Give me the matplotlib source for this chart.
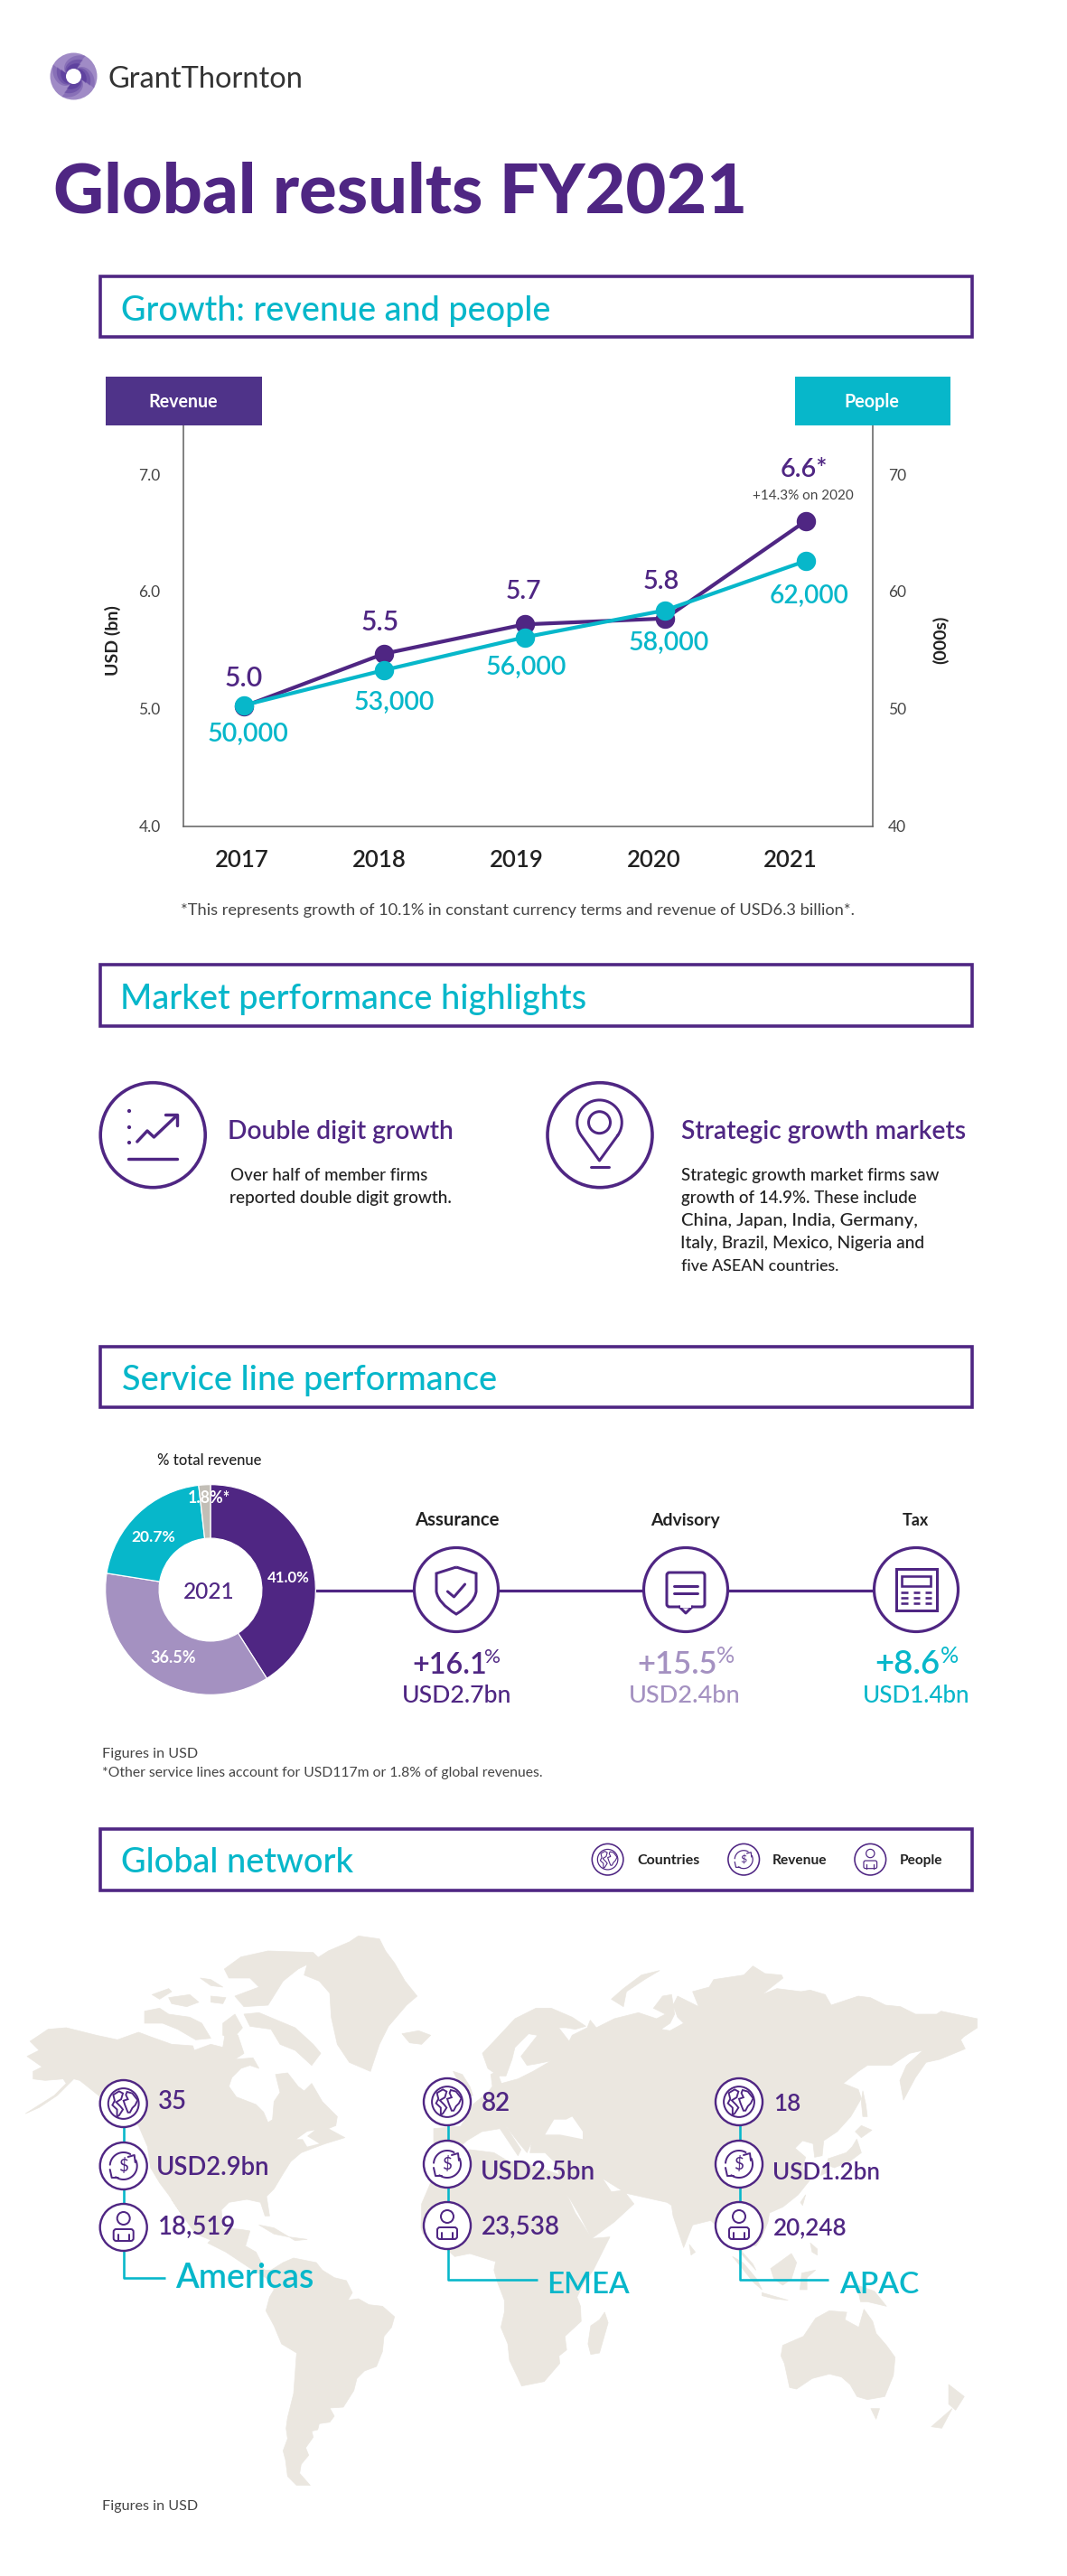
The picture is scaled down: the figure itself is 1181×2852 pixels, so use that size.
import numpy as np
import matplotlib
matplotlib.use("Agg")
import matplotlib.pyplot as plt
from matplotlib.patches import Circle, Rectangle, Polygon, FancyBboxPatch, PathPatch
from matplotlib.path import Path
from matplotlib.textpath import TextPath
from matplotlib.font_manager import FontProperties

# ---- data -------------------------------------------------------------
years = ["2017", "2018", "2019", "2020", "2021"]
revenue_bn = [5.02, 5.47, 5.72, 5.77, 6.60]
people_k = [50.3, 53.3, 56.1, 58.4, 62.6]
revenue_labels = ["5.0", "5.5", "5.7", "5.8", "6.6*"]
people_labels = ["50,000", "53,000", "56,000", "58,000", "62,000"]
left_ticks = [4, 5, 6, 7]
left_tick_labels = ["4.0", "5.0", "6.0", "7.0"]
right_ticks = [40, 50, 60, 70]
service_names = ["Assurance", "Advisory", "Tax"]
service_growth = ["+16.1", "+15.5", "+8.6"]
service_usd = ["USD2.7bn", "USD2.4bn", "USD1.4bn"]
donut_shares = [41.0, 36.5, 20.7, 1.8]
donut_labels = ["41.0%", "36.5%", "20.7%", "1.8%*"]
regions = ["Americas", "EMEA", "APAC"]
region_countries = ["35", "82", "18"]
region_revenue = ["USD2.9bn", "USD2.5bn", "USD1.2bn"]
region_people = ["18,519", "23,538", "20,248"]

# ---- style ------------------------------------------------------------
PURPLE = "#4f2683"
BOXP = "#4f3389"
LILAC = "#a491c1"
TEAL = "#07b7ca"
GREY = "#c2beb6"
LAND = "#ebe7e0"
INK = "#222222"
SOFT = "#444444"
FONT = "Lato"
W, H = 1181, 2852
K = 0.994

fig = plt.figure(figsize=(W / 100, H / 100), dpi=100, facecolor="white")


def ax_px(x0, y0, x1, y1, **kw):
    return fig.add_axes([x0 / W, 1 - y1 / H, (x1 - x0) / W, (y1 - y0) / H], **kw)


def canvas(z):
    a = fig.add_axes([0, 0, 1, 1], zorder=z)
    a.set_xlim(0, W)
    a.set_ylim(H, 0)
    a.axis("off")
    a.patch.set_alpha(0)
    return a


bg = canvas(0)
fg = canvas(5)


def lw(px):
    return px * 0.72


def T(s, x0, x1, base, color=INK, weight="normal", ax=None):
    fp = FontProperties(family=FONT, weight=weight)
    e = TextPath((0, 0), s, size=100, prop=fp).get_extents()
    em = (x1 - x0) * 100 / e.width
    size = em * 0.72
    (ax or fg).text(x0 - e.x0 * em / 100, base, s, fontsize=size, color=color,
                    family=FONT, weight=weight, ha="left", va="baseline", zorder=20)
    return size


def T1(s, x0, x1, y, *a, **k):
    return T(s, x0 * K, x1 * K, y * K, *a, **k)


def T2(s, x0, x1, y, *a, **k):
    return T(s, x0 * K, x1 * K, 1050 + (y - 1050) * K, *a, **k)


def T3(s, x0, x1, y, *a, **k):
    return T(s, x0 * K, x1 * K, 2000 + (y - 2000) * K, *a, **k)


def L(s, x0, base, size, color=INK, weight="normal"):
    fg.text(x0, base, s, fontsize=size, color=color, family=FONT, weight=weight,
            ha="left", va="baseline", zorder=20)


def line(a, pts, px=3.0, color=PURPLE, z=10, cap="round"):
    xs, ys = zip(*pts)
    a.plot(xs, ys, color=color, lw=lw(px), solid_capstyle=cap, solid_joinstyle="round", zorder=z)


def ring(a, cx, cy, r, px=3.0, fc="white", ec=PURPLE, z=8):
    a.add_patch(Circle((cx, cy), r, fc=fc, ec=ec, lw=lw(px), zorder=z))


def arc(a, cx, cy, r, t0, t1, px=2.0, color=PURPLE, z=10):
    t = np.radians(np.linspace(t0, t1, 40))
    line(a, list(zip(cx + r * np.cos(t), cy - r * np.sin(t))), px, color, z)


def heading(y0, y1):
    fg.add_patch(Rectangle((110.7, y0), 964.8, y1 - y0, fc="none", ec=PURPLE, lw=lw(3.6), zorder=10))


# ---- logo -------------------------------------------------------------
def logo(cx, cy, R):
    bg.add_patch(Circle((cx, cy), R, fc="#a08bc6", ec="none", zorder=2))
    for k in range(4):
        for scale, alpha in ((1.0, 0.28), (0.80, 0.35), (0.6, 0.45)):
            a0 = np.radians(k * 90 + 20)
            t = np.linspace(0, np.radians(100), 24)
            rin = R * 0.30 + (R * scale - R * 0.30) * (t / t[-1]) ** 0.7
            ang = a0 + t
            outer = np.c_[cx + rin * np.cos(ang), cy + rin * np.sin(ang)]
            back = np.linspace(0, 1, 12)
            tipr = rin[-1] + (R * 0.30 - rin[-1]) * back
            tipa = ang[-1] - back * np.radians(100) * 0.08
            tail = np.c_[cx + R * 0.30 * np.cos(ang[::-1]), cy + R * 0.30 * np.sin(ang[::-1])]
            head = np.c_[cx + tipr * np.cos(tipa), cy + tipr * np.sin(tipa)]
            bg.add_patch(Polygon(np.r_[outer, head, tail], closed=True, fc="#4a2a92", ec="none",
                                 alpha=alpha, zorder=3))
    bg.add_patch(Circle((cx, cy), 8.5, fc="white", ec="none", zorder=4))


logo(81.5, 84.5, 26)
T("GrantThornton", 121, 333, 97, "#333333")
T1("Global results FY2021", 62, 827, 237, PURPLE, weight="black")

# ---- heading boxes -----------------------------------------------------
heading(306, 373)
heading(1068, 1136)
heading(1490.6, 1558)
heading(2024.5, 2093)
T1("Growth: revenue and people", 137, 612, 357, TEAL, weight="medium")
T2("Market performance highlights", 137, 651, 1117, TEAL, weight="medium")
T2("Service line performance", 137, 551, 1542, TEAL, weight="medium")
T3("Global network", 137, 394, 2073, TEAL, weight="medium")

# ---- line chart ----------------------------------------------------------
AX_L, AX_R, AX_T, AX_B = 202.6, 966, 471.4, 914.7
chart = ax_px(AX_L, AX_T, AX_R, AX_B, zorder=2)
chart.patch.set_alpha(0)
PX_PER_UNIT = (AX_B - 525) / 3.0
chart.set_ylim(4, 4 + (AX_B - AX_T) / PX_PER_UNIT)
xpos = np.arange(5)
step = 155.5
first = 269.6
chart.set_xlim(-(first - AX_L) / step, (AX_R - first) / step)
chart.spines["top"].set_visible(False)
for s in ("left", "right", "bottom"):
    chart.spines[s].set_color("#666666")
    chart.spines[s].set_linewidth(lw(1.6))
chart.set_xticks((np.array([268, 420, 572, 724, 875]) - first) / step)
chart.set_xticklabels(years, fontsize=18.5, color=INK, family=FONT, weight="semibold")
chart.tick_params(axis="x", length=0, pad=18)
chart.set_yticks(left_ticks)
chart.set_yticklabels(left_tick_labels, fontsize=12.5, color=SOFT, family=FONT)
chart.tick_params(axis="y", length=0, pad=18)
chart.plot(xpos, revenue_bn, color=PURPLE, lw=lw(4.2), marker="o", ms=lw(20), mec=PURPLE, zorder=3)
right = chart.twinx()
right.patch.set_alpha(0)
right.set_ylim(40, 40 + (AX_B - AX_T) / PX_PER_UNIT * 10)
right.set_yticks(right_ticks)
right.set_yticklabels([str(v) for v in right_ticks], fontsize=12.5, color=SOFT, family=FONT)
right.tick_params(axis="y", length=0, pad=12)
for s in right.spines.values():
    s.set_visible(False)
right.plot(xpos, people_k, color=TEAL, lw=lw(4.2), marker="o", ms=lw(20), mec=TEAL, zorder=4)

fg.add_patch(Rectangle((116.7, 417), 173.3, 54.4, fc=BOXP, ec="none", zorder=6))
fg.add_patch(Rectangle((879.7, 417), 172.3, 54.4, fc=TEAL, ec="none", zorder=6))
T1("Revenue", 167, 242, 453.5, "white", weight="bold")
T1("People", 942, 1001, 453.5, "white", weight="bold")
fg.text(124.5, 709, "USD (bn)", rotation=90, fontsize=14, weight="bold", family=FONT, color=INK,
        ha="center", va="center", zorder=20)
fg.text(1041, 708, "(000s)", rotation=90, fontsize=14, weight="bold", family=FONT, color=INK,
        ha="center", va="center", zorder=20)

rev_x = [(252, 292, 765), (403, 442, 702), (564, 601.5, 667.5), (717, 755, 656), (870, 920, 531.6)]
for s, (a, b, c) in zip(revenue_labels, rev_x):
    T1(s, a, b, c, PURPLE, weight="semibold")
ppl_x = [(232.5, 321, 825.7), (395, 482.6, 791), (542, 629.5, 751), (701.5, 789, 724), (858, 944, 671.6)]
for s, (a, b, c) in zip(people_labels, ppl_x):
    T1(s, a, b, c, TEAL, weight="semibold")
T1("+14.3% on 2020", 839, 950, 556.5, SOFT)
T1("*This represents growth of 10.1% in constant currency terms and revenue of USD6.3 billion*.",
   202, 949, 1019, SOFT)

# ---- market highlights ---------------------------------------------------
ring(fg, 169.2, 1256.7, 58, 3.6)
ring(fg, 664, 1256.7, 58, 3.6)
for y in (1230, 1248, 1265):
    fg.add_patch(Circle((143, y), 2.1, fc=PURPLE, ec="none", zorder=10))
line(fg, [(151.8, 1264), (163, 1252), (170.4, 1259), (195.7, 1235)], 3.4)
line(fg, [(182.9, 1234), (195.7, 1234), (195.7, 1246)], 3.4)
line(fg, [(142.1, 1283), (196.4, 1283)], 3.4)
t = np.radians(np.linspace(-35, 215, 40))
pin = list(zip(663.5 + 24.8 * np.cos(t), 1242.7 - 24.8 * np.sin(t))) + [(663.5, 1285)]
pin.append(pin[0])
line(fg, pin, 3.0)
ring(fg, 663.5, 1242.7, 12, 3.0, fc="none")
line(fg, [(653.8, 1292.4), (674, 1292.4)], 3.0)

T2("Double digit growth", 256, 504, 1262, PURPLE, weight="semibold")
T2("Strategic growth markets", 759, 1075, 1262, PURPLE, weight="semibold")
T2("Over half of member firms", 257, 476, 1309, INK, weight="medium")
T2("reported double digit growth.", 257, 503, 1334, INK, weight="medium")
body = [("Strategic growth market firms saw", 1046, 1309), ("growth of 14.9%. These include", 1021, 1334),
        ("China, Japan, India, Germany,", 1020, 1359), ("Italy, Brazil, Mexico, Nigeria and", 1027, 1384),
        ("five ASEAN countries.", 933, 1409)]
for s, x1, y in body:
    T2(s, 759, x1, y, INK, weight="medium")

# ---- service lines -------------------------------------------------------
DCX, DCY, DR = 233, 1760, 117.5
donut = ax_px(DCX - DR, DCY - DR, DCX + DR, DCY + DR, zorder=2)
donut.patch.set_alpha(0)
donut.pie(donut_shares, startangle=90, counterclock=False, radius=1.0,
          colors=[PURPLE, LILAC, TEAL, GREY],
          wedgeprops=dict(width=1 - 57.5 / DR, edgecolor="white", linewidth=lw(1.2)))
donut.set_xlim(-1.01, 1.01)
donut.set_ylim(-1.01, 1.01)
pos = [(296, 342, 1752), (167, 216, 1841), (146, 193.6, 1707), (209, 254, 1664)]
for s, (a, b, c) in zip(donut_labels, pos):
    T(s, a, b, c, "white", weight="bold")
T("2021", 204, 258, 1770, PURPLE, weight="medium")
T("% total revenue", 175, 289, 1622, INK, weight="medium")
T2("Figures in USD", 115, 219, 1951, SOFT)
T2("*Other service lines account for USD117m or 1.8% of global revenues.", 115, 605, 1973, SOFT)

centers = [505, 759, 1014]
bg.plot([351, 1014], [1761, 1761], color=PURPLE, lw=lw(3.2), zorder=1)
for cx in centers:
    ring(fg, cx, 1760, 46.5, 3.2)
# shield
c = centers[0]
shield = Path([(c, 1735), (c + 22, 1742), (c + 22, 1762), (c + 20, 1775), (c, 1787), (c - 20, 1775),
               (c - 22, 1762), (c - 22, 1742), (c, 1735)],
              [1, 2, 2, 3, 3, 3, 3, 2, 2])
fg.add_patch(PathPatch(shield, fc="none", ec=PURPLE, lw=lw(3), zorder=10))
line(fg, [(c - 9.6, 1762), (c - 2.5, 1768), (c + 9.6, 1754)], 3)
# speech bubble
c = centers[1]
fg.add_patch(FancyBboxPatch((c - 21, 1741), 42, 38, boxstyle="round,pad=0,rounding_size=3",
                            fc="none", ec=PURPLE, lw=lw(3), zorder=10))
line(fg, [(c - 7, 1779), (c, 1786), (c + 7, 1779)], 3)
fg.add_patch(Rectangle((c - 6, 1777), 12, 3, fc="white", ec="none", zorder=11))
line(fg, [(c - 13, 1756), (c + 13, 1756)], 3)
line(fg, [(c - 13, 1764), (c + 13, 1764)], 3)
# calculator
c = centers[2]
fg.add_patch(Rectangle((c - 22.5, 1737), 45, 46, fc="none", ec=PURPLE, lw=lw(3), zorder=10))
fg.add_patch(Rectangle((c - 16, 1745), 32, 11, fc="none", ec=PURPLE, lw=lw(2.6), zorder=10))
for dy in (2.7, 8.7, 15):
    for a, b in ((-17, -9), (-3.5, 4), (9.5, 17)):
        line(fg, [(c + a, 1760 + dy), (c + b, 1760 + dy)], 2.6, cap="butt")

T(service_names[0], 459, 552, 1689, INK, weight="bold")
T(service_names[1], 720, 797, 1689, INK, weight="bold")
T(service_names[2], 999, 1028, 1689, INK, weight="bold")
for s, col, (a, b), (p0, p1), (u0, u1), usd in zip(
        service_growth, [PURPLE, LILAC, TEAL], [(458, 537), (707, 792), (970, 1039)],
        [(537, 553), (794, 812), (1042, 1060)], [(446.5, 564), (698, 818), (957, 1072)], service_usd):
    T(s, a, b, 1853, col, weight="semibold")
    T("%", p0, p1, 1841, col)
    T(usd, u0, u1, 1885, col, weight="medium")


# ---- map -------------------------------------------------------------------
def z4(p): return [(x / 3 + 20, y / 3 + 2130) for x, y in p]
def z5(p): return [(x / 3 + 460, y / 3 + 2130) for x, y in p]
def z6(p): return [(x / 3 + 720, y / 3 + 2130) for x, y in p]
def z7(p): return [(x / 3 + 200, y / 3 + 2480) for x, y in p]
def z8(p): return [(x / 2.613 + 520, y / 3 + 2480) for x, y in p]


north_america = z4([(40, 390), (100, 350), (160, 345), (260, 370), (330, 385), (400, 360), (440, 375), (510, 400),
    (580, 405), (585, 420), (640, 400), (680, 410), (690, 350), (730, 370), (750, 430), (720, 450), (780, 445),
    (800, 480), (770, 470), (740, 480), (710, 510), (700, 540), (725, 575), (790, 600), (815, 625), (830, 660),
    (845, 650), (850, 590), (870, 560), (855, 500), (895, 495), (930, 540), (950, 555), (975, 530), (1010, 590),
    (1060, 640), (1055, 670), (1030, 680), (1085, 710), (1020, 730), (980, 745), (940, 760), (905, 790), (880, 830),
    (850, 880), (825, 905), (835, 970), (820, 970), (805, 925), (760, 915), (700, 925), (675, 950), (680, 1010),
    (740, 1015), (770, 1020), (755, 1070), (790, 1090), (810, 1130), (790, 1130), (750, 1105), (700, 1075),
    (640, 1050), (590, 1030), (540, 960), (510, 915), (550, 975), (500, 900), (470, 860), (440, 810), (430, 740),
    (400, 670), (350, 640), (280, 580), (205, 520), (185, 515), (130, 570), (70, 610), (25, 630), (120, 570),
    (160, 530), (150, 515), (90, 520), (50, 515), (50, 490), (80, 475), (30, 440), (70, 420)])
greenland = z4([(960, 135), (1030, 90), (1100, 60), (1130, 40), (1200, 50), (1220, 90), (1250, 130), (1285, 190),
    (1325, 240), (1290, 270), (1230, 340), (1200, 400), (1170, 490), (1100, 460), (1060, 400), (1040, 310),
    (1035, 230), (1000, 190), (950, 170)])
arctic = [
    z4([(420, 290), (470, 280), (500, 300), (570, 310), (610, 330), (640, 380), (590, 385), (530, 350), (480, 330), (420, 330)]),
    z4([(445, 235), (500, 215), (510, 225), (470, 250)]),
    z4([(500, 245), (570, 235), (600, 260), (560, 275), (510, 265)]),
    z4([(640, 240), (690, 245), (680, 265), (640, 260)]),
    z4([(605, 180), (640, 185), (680, 210), (640, 205)]),
    z4([(750, 300), (800, 295), (860, 320), (920, 345), (980, 400), (1005, 430), (975, 470), (920, 420), (870, 400), (840, 350), (770, 340)]),
    z4([(685, 150), (740, 110), (830, 90), (980, 95), (1000, 115), (930, 150), (880, 190), (830, 270), (750, 275), (720, 240), (800, 210), (770, 180), (700, 180)]),
    z4([(680, 330), (720, 300), (745, 345), (715, 380), (680, 370)]),
    z4([(1275, 365), (1330, 355), (1370, 370), (1340, 400), (1300, 395)]),
    z4([(800, 1000), (850, 1010), (900, 1040), (850, 1030)]),
    z4([(900, 1040), (960, 1048), (920, 1052)]),
]
south_america = z7([(100, 0), (160, 20), (240, 70), (280, 100), (300, 100), (340, 75), (375, 60), (450, 75), (470, 100),
    (510, 125), (550, 135), (570, 175), (555, 200), (590, 195), (625, 215), (670, 220), (710, 255), (700, 290),
    (675, 320), (670, 370), (650, 420), (610, 435), (585, 460), (575, 500), (540, 555), (495, 558), (510, 585),
    (495, 605), (460, 610), (455, 630), (435, 635), (440, 655), (415, 690), (425, 715), (400, 745), (395, 775),
    (430, 815), (385, 815), (355, 785), (348, 730), (340, 700), (355, 660), (350, 625), (355, 590), (375, 510),
    (385, 375), (335, 345), (310, 285), (283, 235), (295, 190), (310, 165), (290, 130), (240, 100), (150, 40), (90, 10)])
eurasia = z5([(60, 730), (60, 680), (150, 672), (170, 640), (190, 600), (240, 560), (255, 540), (250, 500), (270, 490),
    (285, 530), (340, 515), (390, 490), (450, 455), (400, 465), (370, 470), (350, 440), (405, 370), (375, 365),
    (330, 410), (320, 450), (300, 505), (275, 505), (240, 480), (222, 430), (260, 390), (330, 315), (400, 280),
    (450, 280), (520, 310), (565, 340), (530, 350), (500, 345), (475, 345), (510, 390), (520, 370), (570, 345),
    (580, 320), (600, 345), (660, 315), (740, 295), (800, 315), (830, 300), (790, 280), (820, 240), (850, 235),
    (860, 300), (845, 330), (815, 350), (845, 355), (890, 330), (870, 310), (855, 270), (870, 240), (940, 275),
    (920, 225), (975, 210), (990, 185), (1090, 170), (1120, 140), (1160, 165), (1215, 170)]) + z6([(440, 180),
    (370, 235), (420, 215), (500, 225), (530, 220), (580, 235), (600, 270), (690, 240), (730, 245), (780, 270),
    (830, 275), (880, 300), (950, 300), (965, 290), (1085, 315), (1085, 345), (1040, 375), (1030, 385), (1045, 415),
    (960, 450), (915, 460), (880, 510), (840, 585), (828, 520), (850, 470), (905, 420), (860, 430), (800, 470),
    (720, 470), (690, 490), (640, 530), (690, 550), (700, 580), (665, 640), (620, 690), (575, 720), (570, 770),
    (545, 775), (540, 730), (505, 720), (480, 745), (515, 775), (505, 810), (530, 850), (490, 900), (440, 940),
    (395, 960), (390, 990), (370, 1040), (350, 1070), (310, 1060), (305, 1090), (340, 1130), (350, 1150), (300, 1095),
    (280, 1070), (250, 1030), (200, 985), (140, 1000), (110, 1075), (75, 970), (70, 935)]) + z5([(835, 925), (790, 915),
    (700, 895), (620, 845), (650, 890), (690, 885), (725, 930), (660, 990), (585, 1045), (540, 960), (480, 860),
    (470, 800), (430, 760), (380, 760), (385, 725), (370, 760), (345, 730), (295, 665), (350, 750), (340, 770),
    (280, 680), (220, 690), (170, 720), (125, 760)])
africa = z5([(95, 780), (180, 750), (260, 760), (310, 790), (350, 790), (380, 800), (470, 830), (485, 860), (530, 960),
    (585, 1045), (645, 1040), (590, 1150), (540, 1220)]) + z8([(345, 105), (310, 190), (320, 220), (322, 270), (275, 320),
    (280, 365), (258, 385), (260, 410), (215, 470), (150, 485), (140, 460), (115, 400), (110, 345), (90, 290), (100, 240),
    (100, 200), (80, 140), (70, 100), (75, 70)]) + z5([(260, 1120), (180, 1095), (130, 1105), (80, 1060), (25, 1030),
    (18, 1010), (20, 930), (50, 860)])
islands = [
    z8([(390, 240), (400, 275), (375, 375), (350, 380), (342, 345), (350, 285), (375, 265)]),
    z8([(905, 350), (965, 320), (1000, 260), (1040, 235), (1090, 240), (1085, 265), (1125, 290), (1140, 230), (1165, 270),
        (1175, 310), (1205, 350), (1230, 390), (1225, 450), (1200, 520), (1150, 530), (1120, 520), (1100, 480), (1075, 455),
        (1040, 445), (990, 460), (945, 495), (925, 490), (910, 410), (900, 385)]),
    z8([(1160, 560), (1185, 560), (1175, 595)]),
    z8([(1385, 480), (1430, 520), (1405, 565), (1385, 545)]),
    z8([(1395, 560), (1365, 625), (1335, 620)]),
    z8([(1120, 150), (1170, 170), (1205, 220), (1150, 205), (1130, 205)]),
    z8([(870, 95), (930, 45), (945, 75), (930, 130), (905, 150), (880, 130)]),
    z8([(760, 55), (790, 75), (830, 130), (845, 165), (820, 140), (785, 90)]),
    z8([(845, 175), (920, 200), (880, 195), (845, 185)]),
    z8([(960, 110), (1000, 100), (975, 125), (975, 165), (955, 165)]),
    z8([(985, 10), (1005, 30), (1005, 50), (990, 40)]),
    z8([(635, 15), (652, 40), (640, 50)]),
    z6([(515, 900), (505, 935), (498, 925)]),
    z6([(700, 670), (735, 685), (700, 710), (680, 690)]),
    z6([(685, 715), (700, 760), (660, 790), (610, 810), (585, 800), (590, 780), (650, 760), (670, 740)]),
    z6([(575, 800), (590, 825), (565, 835)]),
    z6([(705, 555), (715, 600), (720, 640), (705, 640), (700, 590)]),
    z5([(650, 250), (690, 215), (750, 170), (810, 155), (760, 185), (700, 225), (690, 275)]),
    z5([(125, 490), (155, 500), (180, 540), (190, 570), (130, 580), (145, 530)]),
]
seas = [
    z5([(430, 700), (460, 650), (500, 650), (520, 640), (555, 690), (555, 715), (480, 700)]),
    z4([(925, 715), (960, 690), (985, 685), (960, 705), (1000, 730), (960, 740), (945, 715)]),
]
for poly in [north_america, greenland, south_america, eurasia, africa] + arctic + islands:
    bg.add_patch(Polygon(poly, closed=True, fc=LAND, ec=LAND, lw=0.5, joinstyle="round", zorder=1))
for poly in seas:
    bg.add_patch(Polygon(poly, closed=True, fc="white", ec="none", zorder=1.5))

GLOBE_A = [(-35, -30), (-15, -42), (-2, -35), (-8, -15), (-25, -5), (-10, 10), (-2, 20), (-15, 40), (-22, 45), (-22, 20),
           (-38, 5), (-30, -10)]
GLOBE_B = [(12, -40), (30, -35), (48, -12), (40, 5), (30, 15), (22, 30), (15, 30), (5, 5), (0, -10), (15, -15), (8, -30)]


def icon_globe(cx, cy, r):
    ring(fg, cx, cy, r, 2.4 if r > 20 else 1.6)
    ring(fg, cx, cy, r * 0.65, 2.0 if r > 20 else 1.2, fc="none", z=9)
    for shape in (GLOBE_A, GLOBE_B):
        pts = [(cx + x / 52 * r * 0.65, cy + y / 52 * r * 0.65) for x, y in shape]
        fg.add_patch(Polygon(pts, closed=True, fc="none", ec=PURPLE, lw=lw(1.9 if r > 20 else 1.1), zorder=10))


def icon_dollar(cx, cy, r):
    px = 2.0 if r > 20 else 1.2
    ring(fg, cx, cy, r, 2.4 if r > 20 else 1.6)
    q = r / 26
    arc(fg, cx, cy, 15 * q, 60, 175, px)
    arc(fg, cx, cy, 15 * q, -125, 25, px)
    line(fg, [(cx + 5 * q, cy - 10 * q), (cx + 12 * q, cy - 12 * q), (cx + 13 * q, cy - 4 * q)], px)
    line(fg, [(cx - 15 * q, cy + 4 * q), (cx - 13 * q, cy + 13 * q), (cx - 6 * q, cy + 13 * q)], px)
    fg.text(cx, cy, "$", fontsize=13.5 * q, color=PURPLE, family=FONT, ha="center", va="center", zorder=20)


def icon_person(cx, cy, r):
    px = 2.0 if r > 20 else 1.2
    q = r / 26
    ring(fg, cx, cy, r, 2.4 if r > 20 else 1.6)
    ring(fg, cx, cy - 10 * q, 7 * q, px, fc="none", z=9)
    fg.add_patch(FancyBboxPatch((cx - 11 * q, cy + 2 * q), 22 * q, 13 * q, boxstyle=f"round,pad=0,rounding_size={3 * q}",
                                fc="none", ec=PURPLE, lw=lw(px), zorder=10))
    line(fg, [(cx - 6 * q, cy + 8 * q), (cx - 6 * q, cy + 15 * q)], px)
    line(fg, [(cx + 6 * q, cy + 8 * q), (cx + 6 * q, cy + 15 * q)], px)


icon_globe(672.6, 2058.7, 17.3)
icon_dollar(823.2, 2058.7, 17.3)
icon_person(963.3, 2058.7, 17.3)
T3("Countries", 710, 779, 2064, INK, weight="bold")
T3("Revenue", 861, 920, 2064, INK, weight="bold")
T3("People", 1003, 1049, 2064, INK, weight="bold")

# region stacks
stack_cx = [136.7, 495, 818]
stack_ys = [(2329, 2398, 2466), (2327, 2396, 2464), (2327, 2396, 2464)]
conn_x = [137.3, 496, 819]
conn_y = [2522, 2524, 2524]
conn_x1 = [183, 595, 917]
name_pos = [(194, 346, 2533), (608, 697, 2539), (929, 1017, 2539)]
n1 = [(175, 2335), (533, 2337), (856, 2337)]
n2 = [(175, 297, 2408), (534, 657, 2413), (857, 972, 2413)]
n3 = [(175, 2474), (533, 2474), (856, 2474)]
for i, name in enumerate(regions):
    cx = stack_cx[i]
    ys = stack_ys[i]
    line(fg, [(conn_x[i], ys[0]), (conn_x[i], conn_y[i]), (conn_x1[i], conn_y[i])], 2.6, TEAL, z=5, cap="butt")
    icon_globe(cx, ys[0], 26)
    icon_dollar(cx, ys[1], 26)
    icon_person(cx, ys[2], 26)
    size = T(region_revenue[i], n2[i][0], n2[i][1], n2[i][2], PURPLE, weight="semibold")
    L(region_countries[i], n1[i][0], n1[i][1], size, PURPLE, weight="semibold")
    L(region_people[i], n3[i][0], n3[i][1], size, PURPLE, weight="semibold")
    T(name, name_pos[i][0], name_pos[i][1], name_pos[i][2], TEAL, weight="semibold")

T3("Figures in USD", 115, 219, 2784, SOFT)

fig.savefig("out.png", dpi=100, facecolor="white")
